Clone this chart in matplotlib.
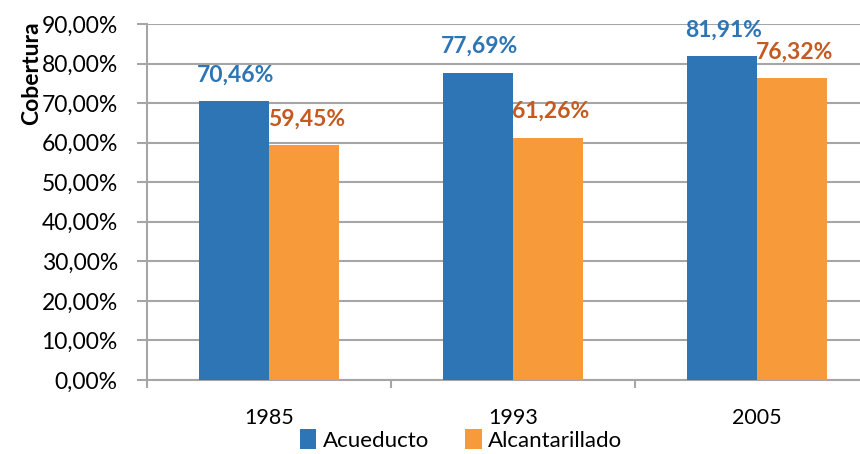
import numpy as np
import matplotlib.pyplot as plt
from matplotlib.ticker import FuncFormatter

years = ["1985", "1993", "2005"]
acueducto = [70.46, 77.69, 81.91]
alcantarillado = [59.45, 61.26, 76.32]

blue = "#2E75B6"
orange = "#F79B3A"
blue_txt = "#2E75B6"
orange_txt = "#C55A21"
grid_c = "#A6A6A6"

plt.rcParams['font.family'] = ['Lato', 'DejaVu Sans']

fig = plt.figure(figsize=(8.6, 4.54), dpi=100)
ax = fig.add_axes([147/860, 1 - 380/454, (879 - 147)/860, (380 - 24)/454])

x = np.arange(len(years))
w = 0.285
b1 = ax.bar(x - w/2, acueducto, w, color=blue, label="Acueducto", zorder=3)
b2 = ax.bar(x + w/2, alcantarillado, w, color=orange, label="Alcantarillado", zorder=3)

def pct(v):
    return f"{v:.2f}%".replace(".", ",")

for xi, v in zip(x, acueducto):
    ax.text(xi - w/2 + 0.005, v + 6.6, pct(v), ha="center", va="center",
            color=blue_txt, fontsize=16.5, fontweight="bold", zorder=4)
for xi, v in zip(x, alcantarillado):
    ax.text(xi + w/2 + 0.01, v + 6.6, pct(v), ha="center", va="center",
            color=orange_txt, fontsize=16.5, fontweight="bold", zorder=4)

ax.set_xlim(-0.5, 2.5)
ax.set_ylim(0, 90)
ax.set_yticks(np.arange(0, 91, 10))
ax.yaxis.set_major_formatter(FuncFormatter(lambda v, p: pct(v)))
ax.yaxis.grid(True, color=grid_c, linewidth=1.5, zorder=0)

ax.set_xticks(x)
ax.set_xticklabels(years)
ax.set_xticks([-0.5, 0.5, 1.5, 2.5], minor=True)
ax.tick_params(axis="x", which="major", length=0, pad=20, labelsize=15.5)
ax.tick_params(axis="x", which="minor", length=6, width=1.5, color=grid_c)
ax.tick_params(axis="y", length=7, width=1.5, color=grid_c, pad=14, labelsize=16.5)

for s in ["top", "right"]:
    ax.spines[s].set_visible(False)
for s in ["left", "bottom"]:
    ax.spines[s].set_color(grid_c)
    ax.spines[s].set_linewidth(1.5)

fig.text(32/860, 1 - 73/454, "Cobertura", rotation=90, ha="center", va="center",
         fontsize=16.5, fontweight="bold")

fig.legend(handles=[b1, b2], loc="center", bbox_to_anchor=(461/860, 1 - 440/454),
           ncol=2, frameon=False, fontsize=16, handlelength=0.75, handleheight=1.0,
           handletextpad=0.3, columnspacing=1.6, borderpad=0)

fig.savefig("out.png", dpi=100)
